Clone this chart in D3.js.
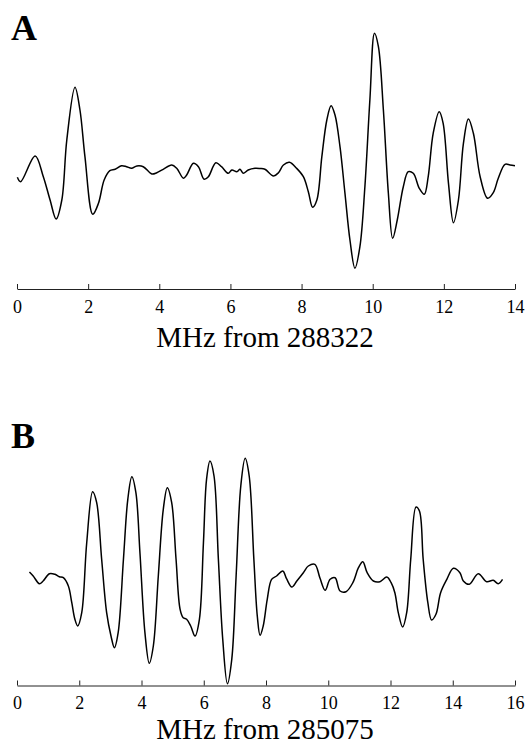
<!DOCTYPE html>
<html>
<head>
<meta charset="utf-8">
<script src="https://cdn.jsdelivr.net/npm/d3@7"></script>
<style>
  body { margin: 0; background: #fff; }
  svg { display: block; }
  .tick text { font-family: "Liberation Serif", "Times New Roman", serif; font-size: 18px; }
</style>
</head>
<body>
<div id="chart"></div>
<script>
// panel A: MHz from 288322, signal in arbitrary units
const freqA = [0.01, 0.10, 0.51, 0.74, 0.93, 1.10, 1.26, 1.40, 1.63, 1.77, 1.91, 2.13, 2.29, 2.45, 2.61, 2.76,
  2.94, 3.08, 3.22, 3.37, 3.55, 3.79, 3.93, 4.11, 4.35, 4.49, 4.68, 4.77, 4.96, 5.10, 5.26, 5.38, 5.59,
  5.75, 5.94, 6.04, 6.18, 6.27, 6.36, 6.50, 6.69, 6.83, 6.97, 7.21, 7.35, 7.49, 7.66, 7.86, 8.05, 8.19,
  8.31, 8.43, 8.57, 8.71, 8.83, 8.94, 9.08, 9.22, 9.36, 9.50, 9.64, 9.78, 9.92, 10.05, 10.16, 10.30,
  10.44, 10.56, 10.69, 10.86, 11.00, 11.14, 11.31, 11.45, 11.56, 11.70, 11.87, 11.98, 12.13, 12.27,
  12.41, 12.55, 12.69, 12.83, 13.02, 13.23, 13.39, 13.53, 13.72, 13.86, 14.00];
const signalA = [-0.93, -1.37, 1.2, -0.87, -3.2, -5.1, -3.2, 2.8, 8.07, 5.8, 1.13, -4.63, -3.53, -1.2, -0.27, -0.13,
  0.23, 0.13, -0.03, 0.2, 0.13, -0.6, -0.47, -0.13, 0.3, -0.03, -1.03, -0.7, 0.47, 0.13, -1.13, -0.87, 0.53,
  0.13, -0.53, -0.2, -0.37, -0.13, -0.53, -0.2, -0.03, -0.05, -0.13, -0.8, -0.47, 0.3, 0.57, -0.03, -0.87, -2.37,
  -3.93, -3.2, 1.13, 4.8, 6.23, 5.3, 2.13, -2.53, -7.2, -10.03, -7.87, -1.87, 6.8, 13.47, 12.13, 5.8,
  -2.53, -7.03, -5.2, -1.87, -0.37, -0.53, -2.03, -2.63, -0.87, 3.47, 5.63, 4.47, -1.53, -5.47,
  -3.2, 2.47, 4.9, 3.47, -0.87, -3.03, -2.47, -1.03, 0.37, 0.3, 0.23];

// panel B: MHz from 285075
const freqB = [0.40, 0.52, 0.72, 0.84, 1.04, 1.22, 1.36, 1.49, 1.65, 1.76, 1.86, 1.95, 2.08, 2.24, 2.43, 2.56,
  2.72, 2.88, 3.02, 3.13, 3.25, 3.42, 3.56, 3.69, 3.82, 3.95, 4.11, 4.25, 4.38, 4.54, 4.70, 4.83, 4.97,
  5.11, 5.24, 5.34, 5.45, 5.58, 5.72, 5.86, 5.99, 6.09, 6.20, 6.33, 6.47, 6.61, 6.76, 6.90, 7.04, 7.19,
  7.33, 7.46, 7.61, 7.72, 7.81, 7.91, 8.04, 8.18, 8.34, 8.54, 8.66, 8.83, 8.99, 9.20, 9.36, 9.57, 9.73,
  9.90, 10.06, 10.22, 10.38, 10.57, 10.79, 10.97, 11.11, 11.25, 11.45, 11.66, 11.88, 12.02, 12.14, 12.25,
  12.39, 12.52, 12.65, 12.82, 12.93, 13.05, 13.20, 13.32, 13.46, 13.61, 13.81, 14.02, 14.23, 14.34, 14.53,
  14.82, 15.09, 15.30, 15.46, 15.60];
const signalB = [0.4, 0, -0.77, -0.5, 0.23, 0.17, -0.07, -0.17, -1.0, -2.67, -4.33, -5.0, -3.67, 3.33, 8.43, 7.33,
  1.67, -3.67, -6.0, -7.17, -5.67, 1.67, 7.67, 9.93, 8.33, 2.33, -5.67, -8.73, -7.0, 0, 6.67, 8.83, 7.33,
  1.67, -3.33, -4.17, -4.33, -5.0, -6.0, -4.33, 3.33, 9.67, 11.5, 10.0, 1.67, -6.33, -10.77, -8.33, 0, 9.0,
  11.77, 10.0, 1.67, -4.0, -5.93, -5.0, -2.33, -0.33, 0, 0.5, -0.27, -1.1, -0.5, 0.33, 1.0, 1.17, -0.17,
  -1.43, -0.33, -0.17, -1.5, -1.57, -0.67, 0.83, 1.43, 0.33, -0.5, -0.57, -0.1, -0.67, -1.67, -3.67,
  -5.1, -3.67, 1.67, 6.9, 6.5, 1.67, -2.67, -4.4, -3.83, -1.67, -0.33, 0.77, 0.33, -0.5, -0.83,
  0.23, -0.57, -0.43, -0.77, -0.33];

const ticksA = [0, 2, 4, 6, 8, 10, 12, 14];
const ticksB = [0, 2, 4, 6, 8, 10, 12, 14, 16];

const width = 529, height = 744;
const serif = '"Liberation Serif", "Times New Roman", serif';

const svg = d3.select("#chart").append("svg")
  .attr("width", width)
  .attr("height", height);

function drawPanel(opts) {
  const { label, freq, signal, ticks, xMax, top, axisY, titleY, title } = opts;
  const x = d3.scaleLinear().domain([0, xMax]).range([17, 515]);
  const y = d3.scaleLinear().domain([-12, 15]).range([top + 270, top]);

  const pts = freq.map((f, i) => [f, signal[i]]);
  const line = d3.line()
    .x((d) => x(d[0]))
    .y((d) => y(d[1]))
    .curve(d3.curveCatmullRom.alpha(0.5));

  svg.append("path")
    .datum(pts)
    .attr("d", line)
    .attr("fill", "none")
    .attr("stroke", "#000")
    .attr("stroke-width", 1.5)
    .attr("stroke-linejoin", "round");

  const axis = d3.axisBottom(x)
    .tickValues(ticks)
    .tickSizeInner(-5)
    .tickSizeOuter(0)
    .tickPadding(11);

  const g = svg.append("g")
    .attr("transform", `translate(0,${axisY})`)
    .call(axis);
  g.select(".domain").attr("stroke", "#222");
  g.selectAll(".tick line").attr("stroke", "#222");
  g.selectAll(".tick text").attr("fill", "#000");

  svg.append("text")
    .attr("x", 265)
    .attr("y", titleY)
    .attr("text-anchor", "middle")
    .attr("font-family", serif)
    .attr("font-size", 29)
    .text(title);

  svg.append("text")
    .attr("x", 11)
    .attr("y", top + 22)
    .attr("font-family", serif)
    .attr("font-weight", "bold")
    .attr("font-size", 36)
    .text(label);
}

drawPanel({ label: "A", freq: freqA, signal: signalA, ticks: ticksA, xMax: 14,
  top: 18, axisY: 289, titleY: 347, title: "MHz from 288322" });
drawPanel({ label: "B", freq: freqB, signal: signalB, ticks: ticksB, xMax: 16,
  top: 426, axisY: 685.5, titleY: 739, title: "MHz from 285075" });
</script>
</body>
</html>
